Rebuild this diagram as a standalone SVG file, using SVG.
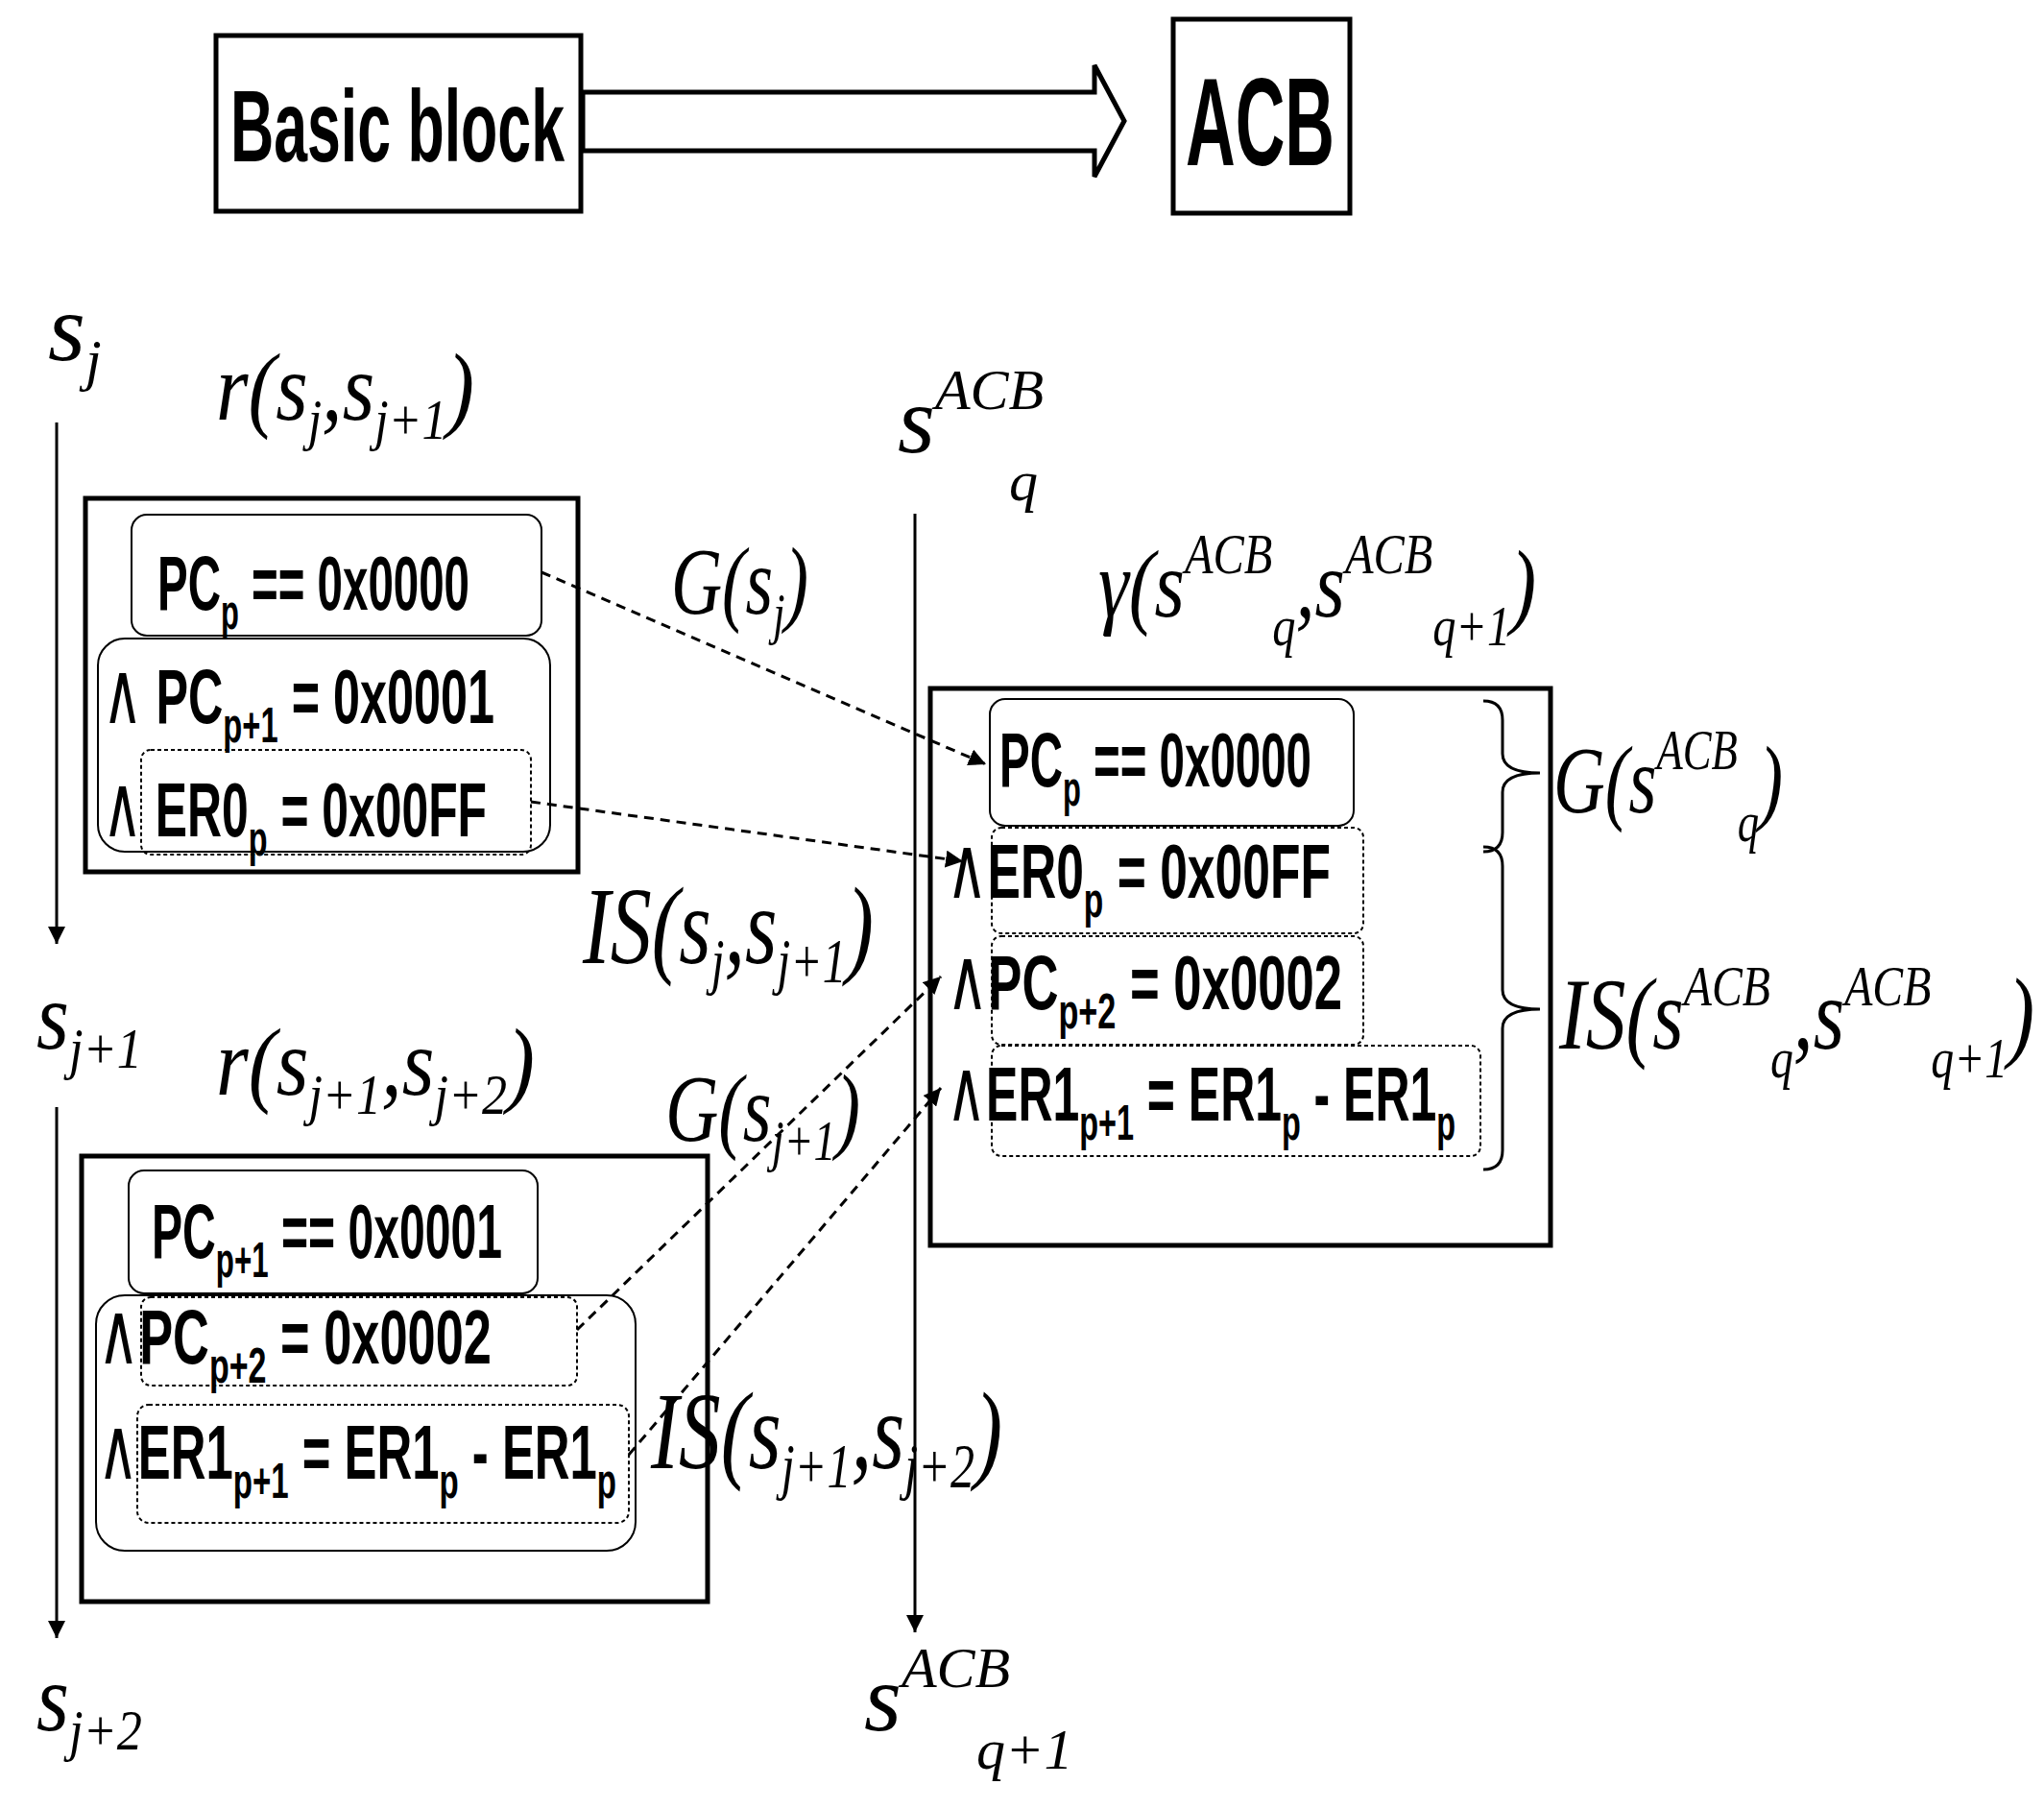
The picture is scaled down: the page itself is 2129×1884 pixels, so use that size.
<svg xmlns="http://www.w3.org/2000/svg" width="2129" height="1884" viewBox="0 0 2129 1884">
<style>
.b{font-family:"Liberation Sans",Arial,sans-serif;font-weight:bold;fill:#000}
.m{font-family:"Liberation Serif","DejaVu Serif",serif;font-style:italic;fill:#000}
.n{font-family:"DejaVu Sans",sans-serif;font-weight:normal}
.box{fill:none;stroke:#000;stroke-width:5}
.rr{fill:none;stroke:#000;stroke-width:2}
.dr{fill:none;stroke:#000;stroke-width:2;stroke-dasharray:4 3}
.cn{fill:none;stroke:#000;stroke-width:3;stroke-dasharray:10 7}
.ln{fill:none;stroke:#000;stroke-width:3}
</style>
<defs>
<marker id="ah" viewBox="0 0 10 10" refX="10" refY="5" markerWidth="6" markerHeight="6" orient="auto"><path d="M0,0 L10,5 L0,10 z" fill="#000"/></marker>
</defs>
<g id="basic"><rect x="225" y="37" width="380" height="183" class="box"/><text x="240" y="168" class="b" font-size="105" textLength="348" lengthAdjust="spacingAndGlyphs">Basic block</text></g>
<g id="acb"><rect x="1222" y="20" width="184" height="202" class="box"/><text x="1235" y="172" class="b" font-size="130" textLength="155" lengthAdjust="spacingAndGlyphs">ACB</text></g>
<g id="bigarrow"><path d="M607,96 L1140,96 L1140,68 L1171,126 L1140,184 L1140,157 L607,157 Z" fill="#fff" stroke="#000" stroke-width="5"/></g>

<g id="connectors">
<line x1="59" y1="440" x2="59" y2="983" class="ln" marker-end="url(#ah)"/>
<line x1="59" y1="1153" x2="59" y2="1706" class="ln" marker-end="url(#ah)"/>
<line x1="953" y1="535" x2="953" y2="1700" class="ln" marker-end="url(#ah)"/>
<line x1="564" y1="596" x2="1027" y2="796" class="cn" marker-end="url(#ah)"/>
<line x1="553" y1="835" x2="1003" y2="897" class="cn" marker-end="url(#ah)"/>
<line x1="601" y1="1385" x2="980" y2="1017" class="cn" marker-end="url(#ah)"/>
<line x1="655" y1="1515" x2="980" y2="1133" class="cn" marker-end="url(#ah)"/>
</g>

<g id="labels" font-size="100">
<text x="50" y="375" class="m">s<tspan font-size="60" dy="20">j</tspan></text>
<text x="225" y="437" class="m" textLength="269" lengthAdjust="spacingAndGlyphs">r(s<tspan font-size="60" dy="20">j</tspan><tspan dy="-20">,s</tspan><tspan font-size="60" dy="20">j+1</tspan><tspan dy="-20">)</tspan></text>
<text x="38" y="1092" class="m" textLength="110" lengthAdjust="spacingAndGlyphs">s<tspan font-size="60" dy="20">j+1</tspan></text>
<text x="225" y="1140" class="m" textLength="332" lengthAdjust="spacingAndGlyphs">r(s<tspan font-size="60" dy="20">j+1</tspan><tspan dy="-20">,s</tspan><tspan font-size="60" dy="20">j+2</tspan><tspan dy="-20">)</tspan></text>
<text x="38" y="1802" class="m" textLength="110" lengthAdjust="spacingAndGlyphs">s<tspan font-size="60" dy="20">j+2</tspan></text>
<text x="699" y="639" class="m" textLength="143" lengthAdjust="spacingAndGlyphs">G(s<tspan font-size="60" dy="20">j</tspan><tspan dy="-20">)</tspan></text>
<text x="607" y="1003" class="m" font-size="115" textLength="303" lengthAdjust="spacingAndGlyphs">IS(s<tspan font-size="66" dy="20">j</tspan><tspan dy="-20">,s</tspan><tspan font-size="66" dy="20">j+1</tspan><tspan dy="-20">)</tspan></text>
<text x="693" y="1188" class="m" textLength="203" lengthAdjust="spacingAndGlyphs">G(s<tspan font-size="60" dy="20">j+1</tspan><tspan dy="-20">)</tspan></text>
<text x="678" y="1529" class="m" font-size="115" textLength="366" lengthAdjust="spacingAndGlyphs">IS(s<tspan font-size="66" dy="20">j+1</tspan><tspan dy="-20">,s</tspan><tspan font-size="66" dy="20">j+2</tspan><tspan dy="-20">)</tspan></text>
<text x="935" y="471" class="m">s<tspan font-size="60" dy="-45">ACB</tspan><tspan font-size="60" x="1051" dy="95">q</tspan></text>
<text x="900" y="1802" class="m">s<tspan font-size="60" dy="-45">ACB</tspan><tspan font-size="60" x="1017" dy="85">q+1</tspan></text>
<text x="1144" y="642" class="m" textLength="456" lengthAdjust="spacingAndGlyphs">γ(s<tspan font-size="60" dy="-45">ACB</tspan><tspan font-size="60" dy="75">q</tspan><tspan dy="-30">,s</tspan><tspan font-size="60" dy="-45">ACB</tspan><tspan font-size="60" dy="75">q+1</tspan><tspan dy="-30">)</tspan></text>
<text x="1618" y="846" class="m" textLength="239" lengthAdjust="spacingAndGlyphs">G(s<tspan font-size="60" dy="-45">ACB</tspan><tspan font-size="60" dy="75">q</tspan><tspan dy="-30">)</tspan></text>
<text x="1624" y="1092" class="m" font-size="105" textLength="495" lengthAdjust="spacingAndGlyphs">IS(s<tspan font-size="60" dy="-45">ACB</tspan><tspan font-size="60" dy="75">q</tspan><tspan dy="-30">,s</tspan><tspan font-size="60" dy="-45">ACB</tspan><tspan font-size="60" dy="75">q+1</tspan><tspan dy="-30">)</tspan></text>
</g>

<g id="box1">
<rect x="89" y="519" width="513" height="389" class="box"/>
<rect x="137" y="536" width="427" height="126" rx="16" class="rr"/>
<rect x="102" y="665" width="471" height="222" rx="28" class="rr"/>
<rect x="147" y="781" width="406" height="109" rx="10" class="dr"/>
<text x="164" y="635" class="b" font-size="80" textLength="325" lengthAdjust="spacingAndGlyphs">PC<tspan font-size="52" dy="20">p</tspan><tspan dy="-20"> == 0x0000</tspan></text>
<text x="107" y="753" class="b" font-size="80" textLength="408" lengthAdjust="spacingAndGlyphs"><tspan class="n" font-size="90">∧</tspan> PC<tspan font-size="52" dy="20">p+1</tspan><tspan dy="-20"> =  0x0001</tspan></text>
<text x="107" y="871" class="b" font-size="80" textLength="400" lengthAdjust="spacingAndGlyphs"><tspan class="n" font-size="90">∧</tspan> ER0<tspan font-size="52" dy="20">p</tspan><tspan dy="-20"> =  0x00FF</tspan></text>
</g>

<g id="box2">
<rect x="85" y="1204" width="652" height="464" class="box"/>
<rect x="134" y="1219" width="426" height="128" rx="16" class="rr"/>
<rect x="100" y="1349" width="562" height="266" rx="30" class="rr"/>
<rect x="147" y="1351" width="454" height="92" rx="10" class="dr"/>
<rect x="143" y="1463" width="512" height="123" rx="12" class="dr"/>
<text x="158" y="1310" class="b" font-size="80" textLength="365" lengthAdjust="spacingAndGlyphs">PC<tspan font-size="52" dy="20">p+1</tspan><tspan dy="-20"> == 0x0001</tspan></text>
<text x="102" y="1420" class="b" font-size="80" textLength="410" lengthAdjust="spacingAndGlyphs"><tspan class="n" font-size="90">∧</tspan>PC<tspan font-size="52" dy="20">p+2</tspan><tspan dy="-20"> =  0x0002</tspan></text>
<text x="102" y="1540" class="b" font-size="80" textLength="540" lengthAdjust="spacingAndGlyphs"><tspan class="n" font-size="90">∧</tspan>ER1<tspan font-size="52" dy="20">p+1</tspan><tspan dy="-20"> =  ER1</tspan><tspan font-size="52" dy="20">p</tspan><tspan dy="-20"> - ER1</tspan><tspan font-size="52" dy="20">p</tspan></text>
</g>

<g id="box3">
<rect x="969" y="717" width="646" height="580" class="box"/>
<rect x="1031" y="728" width="379" height="132" rx="16" class="rr"/>
<rect x="1033" y="862" width="387" height="110" rx="10" class="dr"/>
<rect x="1033" y="975" width="387" height="113" rx="10" class="dr"/>
<rect x="1033" y="1089" width="509" height="115" rx="10" class="dr"/>
<text x="1041" y="819" class="b" font-size="80" textLength="325" lengthAdjust="spacingAndGlyphs">PC<tspan font-size="52" dy="20">p</tspan><tspan dy="-20"> == 0x0000</tspan></text>
<text x="986" y="935" class="b" font-size="80" textLength="400" lengthAdjust="spacingAndGlyphs"><tspan class="n" font-size="90">∧</tspan>ER0<tspan font-size="52" dy="20">p</tspan><tspan dy="-20"> =  0x00FF</tspan></text>
<text x="986" y="1051" class="b" font-size="80" textLength="412" lengthAdjust="spacingAndGlyphs"><tspan class="n" font-size="90">∧</tspan>PC<tspan font-size="52" dy="20">p+2</tspan><tspan dy="-20"> =  0x0002</tspan></text>
<text x="986" y="1167" class="b" font-size="80" textLength="530" lengthAdjust="spacingAndGlyphs"><tspan class="n" font-size="90">∧</tspan>ER1<tspan font-size="52" dy="20">p+1</tspan><tspan dy="-20"> =  ER1</tspan><tspan font-size="52" dy="20">p</tspan><tspan dy="-20"> - ER1</tspan><tspan font-size="52" dy="20">p</tspan></text>
<path d="M1545,730 Q1565,730 1565,750 L1565,785 Q1565,805 1604,805 Q1565,805 1565,825 L1565,867 Q1565,887 1545,887" class="ln" stroke-width="5"/>
<path d="M1545,882 Q1565,882 1565,902 L1565,1031 Q1565,1051 1604,1051 Q1565,1051 1565,1071 L1565,1198 Q1565,1218 1545,1218" class="ln" stroke-width="5"/>
</g>
</svg>
